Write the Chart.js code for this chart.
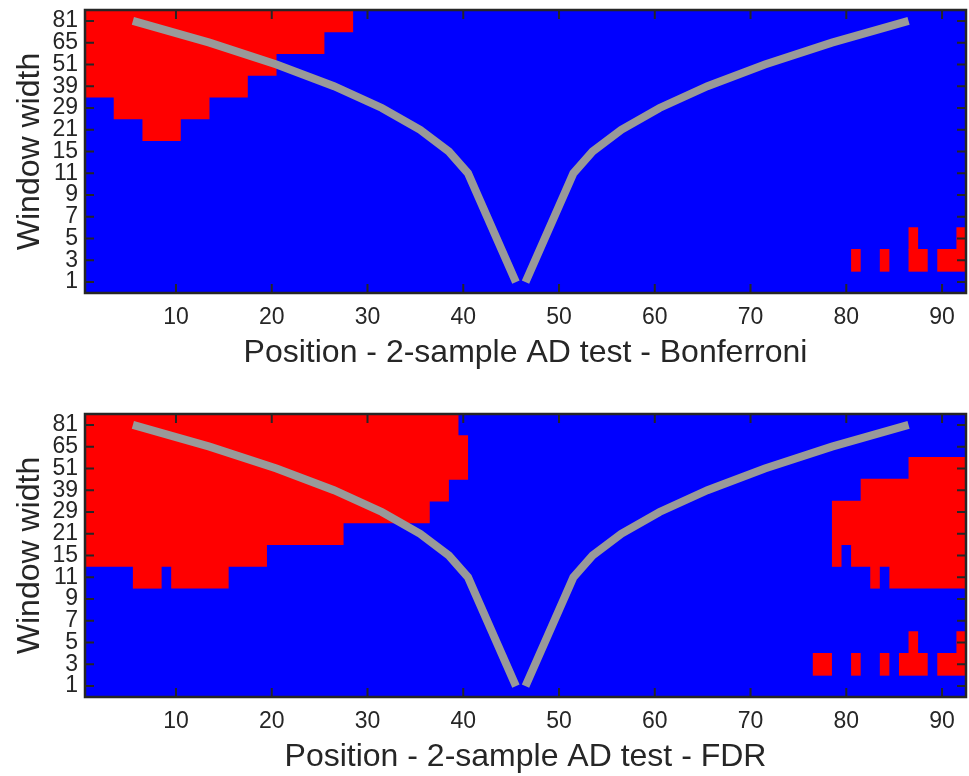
<!DOCTYPE html>
<html>
<head>
<meta charset="utf-8">
<script src="https://cdn.jsdelivr.net/npm/chart.js@4"></script>
<style>
  html, body { margin: 0; padding: 0; background: #fff; overflow: hidden; }
  .panel { position: absolute; left: 0; width: 969px; height: 372px; }
</style>
</head>
<body>
<div class="panel" style="top:0"><canvas id="bonf" width="969" height="372"></canvas></div>
<div class="panel" style="top:404px"><canvas id="fdr" width="969" height="372"></canvas></div>
<script>
// Window widths, top row first
const rows = ['81', '65', '51', '39', '29', '21', '15', '11', '9', '7', '5', '3', '1'];
const xTicks = [10, 20, 30, 40, 50, 60, 70, 80, 90];
const firstPos = 1;
const lastPos = 92;

// Significant (red) runs: [window width, first position, last position]
const bonferroniRuns = [
  ['81', 1, 28], ['65', 1, 25], ['51', 1, 20], ['39', 1, 17], ['29', 4, 13], ['21', 7, 10],
  ['5', 87, 87], ['5', 92, 92],
  ['3', 81, 81], ['3', 84, 84], ['3', 87, 88], ['3', 90, 92],
];
const fdrRuns = [
  ['81', 1, 39], ['65', 1, 40], ['51', 1, 40], ['39', 1, 38], ['29', 1, 36], ['21', 1, 27],
  ['15', 1, 19], ['11', 6, 8], ['11', 10, 15],
  ['51', 87, 92], ['39', 82, 92], ['29', 79, 92], ['21', 79, 92],
  ['15', 79, 79], ['15', 81, 92], ['11', 83, 83], ['11', 85, 92],
  ['5', 87, 87], ['5', 92, 92],
  ['3', 77, 78], ['3', 81, 81], ['3', 84, 84], ['3', 86, 88], ['3', 90, 92],
];

// Grey V: window edges per row (same order as rows)
const leftEdge = [5.5, 13.5, 20.5, 26.5, 31.5, 35.5, 38.5, 40.5, 41.5, 42.5, 43.5, 44.5, 45.5];
const rightEdge = [86.5, 78.5, 71.5, 65.5, 60.5, 56.5, 53.5, 51.5, 50.5, 49.5, 48.5, 47.5, 46.5];

const axisColor = '#262626';
Chart.defaults.font.family = "'Liberation Sans', Arial, sans-serif";
Chart.defaults.color = axisColor;

// MATLAB-style box with inward tick marks
const boxTicks = {
  id: 'boxTicks',
  afterDatasetsDraw(chart) {
    const { ctx, chartArea: a, scales } = chart;
    const len = 9;
    ctx.save();
    ctx.strokeStyle = axisColor;
    ctx.lineWidth = 2;
    ctx.beginPath();
    scales.x.ticks.forEach((t) => {
      const px = scales.x.getPixelForValue(t.value);
      ctx.moveTo(px, a.bottom); ctx.lineTo(px, a.bottom - len);
      ctx.moveTo(px, a.top); ctx.lineTo(px, a.top + len);
    });
    scales.y.ticks.forEach((t, i) => {
      const py = scales.y.getPixelForTick(i);
      ctx.moveTo(a.left, py); ctx.lineTo(a.left + len, py);
      ctx.moveTo(a.right, py); ctx.lineTo(a.right - len, py);
    });
    ctx.stroke();
    ctx.lineWidth = 2.5;
    ctx.strokeRect(a.left, a.top, a.right - a.left, a.bottom - a.top);
    ctx.restore();
  },
};

function makePanel(id, runs, title) {
  const background = rows.map((r) => ({ x: [firstPos - 0.5, lastPos + 0.5], y: r }));
  const red = runs.map(([r, a, b]) => ({ x: [a - 0.5, b + 0.5], y: r }));
  const edge = (vals) => vals.map((v, i) => ({ x: v, y: rows[i] }));
  const line = (vals) => ({
    type: 'line',
    data: edge(vals),
    borderColor: '#999999',
    borderWidth: 8,
    borderCapStyle: 'butt',
    pointRadius: 0,
    fill: false,
    order: 0,
  });

  new Chart(document.getElementById(id), {
    type: 'bar',
    data: {
      datasets: [
        line(leftEdge),
        line(rightEdge),
        { data: red, backgroundColor: '#ff0000', grouped: false, barPercentage: 1.04, categoryPercentage: 1, order: 1 },
        { data: background, backgroundColor: '#0000ff', grouped: false, barPercentage: 1.04, categoryPercentage: 1, order: 2 },
      ],
    },
    options: {
      indexAxis: 'y',
      responsive: false,
      animation: false,
      layout: { padding: { top: 10, right: 3, left: 0, bottom: 0 } },
      plugins: { legend: { display: false }, tooltip: { enabled: false } },
      scales: {
        x: {
          type: 'linear',
          min: firstPos - 0.5,
          max: lastPos + 0.5,
          afterBuildTicks: (s) => { s.ticks = xTicks.map((v) => ({ value: v })); },
          afterFit: (s) => { s.height = 79; s.paddingLeft = 0; s.paddingRight = 0; },
          grid: { display: false, drawTicks: false },
          border: { display: false },
          ticks: { font: { size: 23 }, padding: 11, maxRotation: 0, color: axisColor },
          title: { display: true, text: title, font: { size: 32 }, padding: { top: 0, bottom: 0 }, color: axisColor },
        },
        y: {
          type: 'category',
          labels: rows,
          offset: true,
          afterFit: (s) => { s.width = 85; s.paddingTop = 0; s.paddingBottom = 0; },
          grid: { display: false, drawTicks: false },
          border: { display: false },
          ticks: { font: { size: 23 }, padding: 7, color: axisColor, autoSkip: false },
          title: { display: true, text: 'Window width', font: { size: 32 }, padding: { top: 11, bottom: 0 }, color: axisColor },
        },
      },
    },
    plugins: [boxTicks],
  });
}

makePanel('bonf', bonferroniRuns, 'Position - 2-sample AD test - Bonferroni');
makePanel('fdr', fdrRuns, 'Position - 2-sample AD test - FDR');
</script>
</body>
</html>
